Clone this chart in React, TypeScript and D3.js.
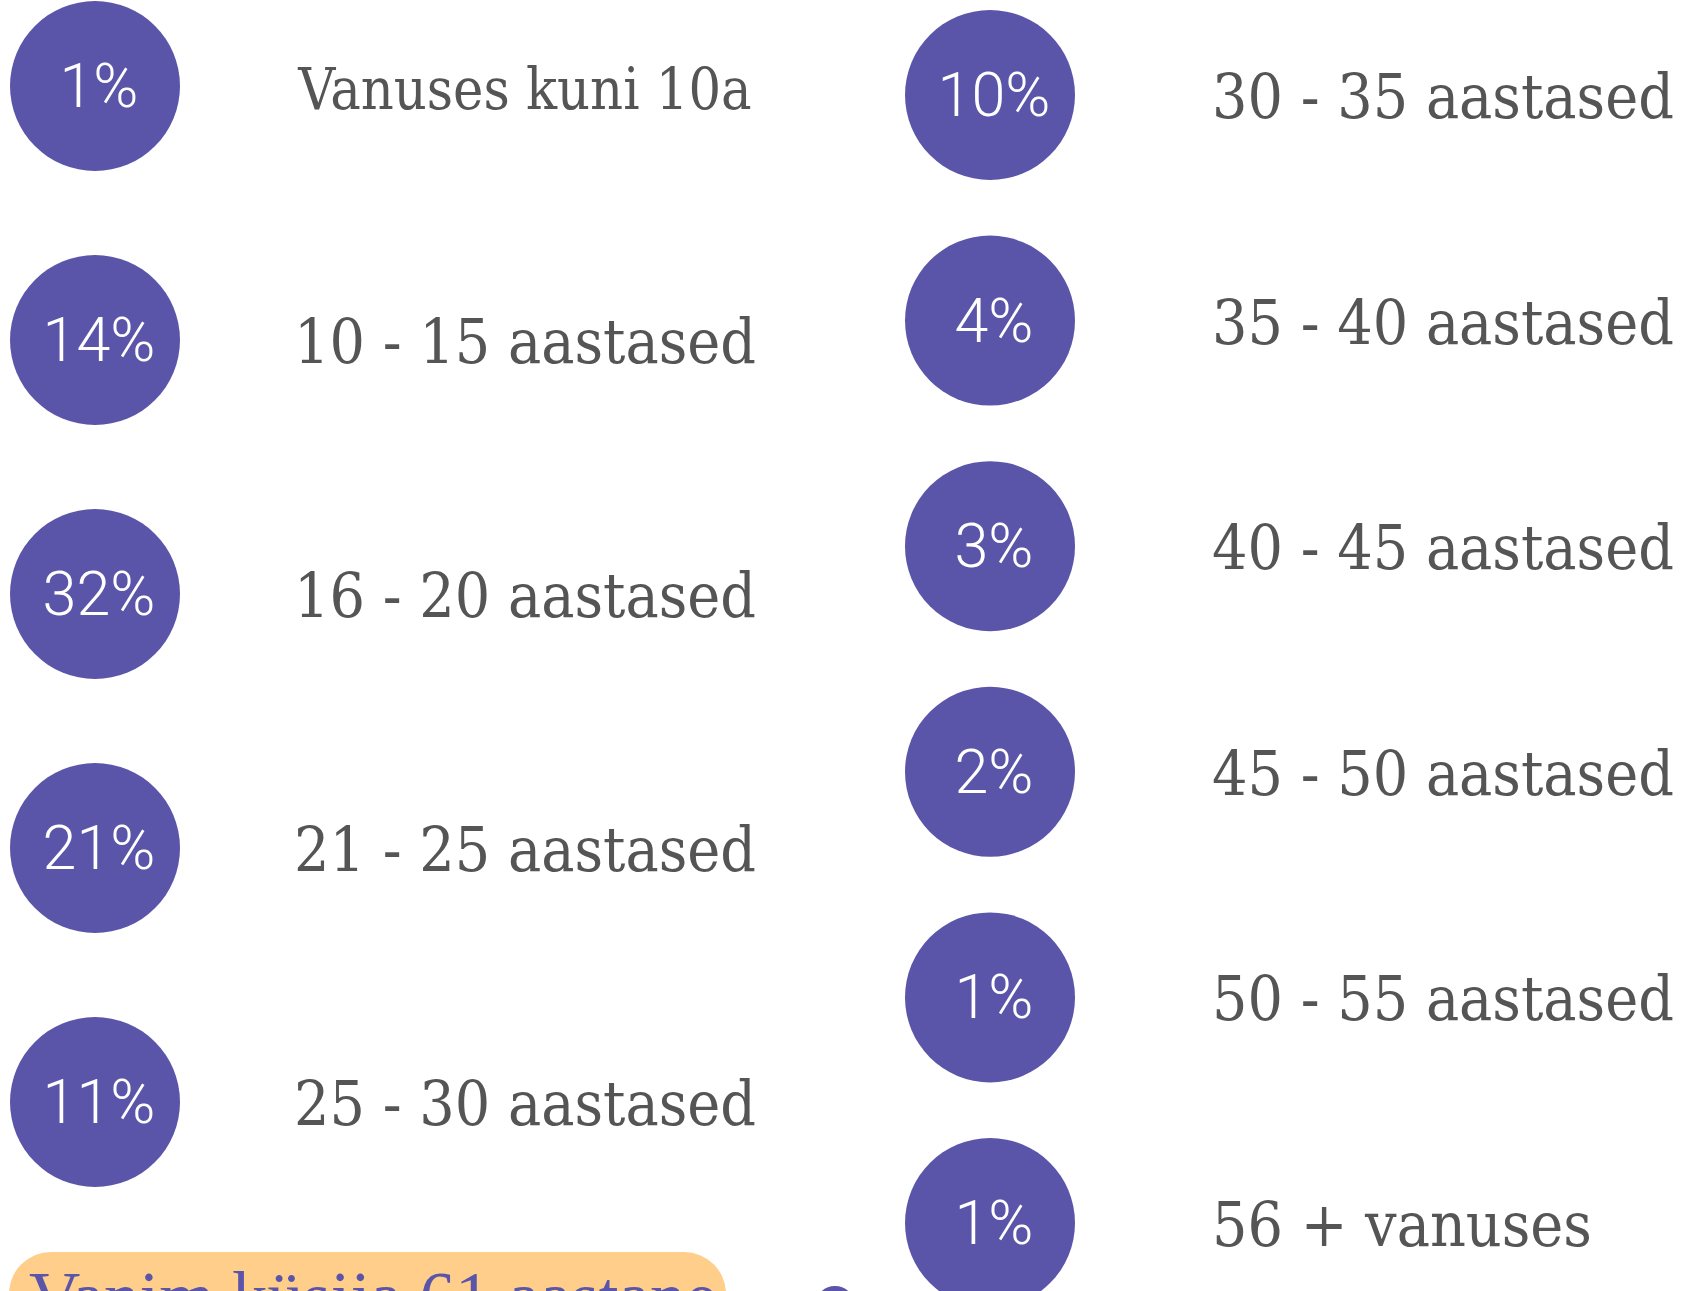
import React from 'react';
import * as d3 from 'd3';

// age groups, left column then right column
const leftGroups = [
  'Vanuses kuni 10a',
  '10 - 15 aastased',
  '16 - 20 aastased',
  '21 - 25 aastased',
  '25 - 30 aastased',
];
const leftShares = [1, 14, 32, 21, 11];

const rightGroups = [
  '30 - 35 aastased',
  '35 - 40 aastased',
  '40 - 45 aastased',
  '45 - 50 aastased',
  '50 - 55 aastased',
  '56 + vanuses',
];
const rightShares = [10, 4, 3, 2, 1, 1];

const noteText = 'Vanim küsija 61 aastane';

const W = 1694;
const H = 1291;
const R = 85;
const PURPLE = '#5b55a9';
const GREY = '#555555';
const ORANGE = '#fece8a';

const Column = ({ groups, shares, cx, y0, y1, labelX, anchor }) => {
  const y = d3.scalePoint<string>().domain(groups).range([y0, y1]);
  const fmt = (v: number) => d3.format('d')(v) + '%';
  return (
    <g>
      {groups.map((g, i) => (
        <g key={g}>
          <circle cx={cx} cy={y(g)} r={R} fill={PURPLE} />
          <text
            x={cx + 4}
            y={y(g)}
            dominantBaseline="central"
            textAnchor="middle"
            fill="#fff"
            fontFamily="Roboto, sans-serif"
            fontWeight={300}
            fontSize={61}
          >
            {fmt(shares[i])}
          </text>
          <text
            x={labelX}
            y={(y(g) ?? 0) + 23}
            textAnchor={anchor}
            fill={GREY}
            fontFamily="'DejaVu Serif Condensed', 'DejaVu Serif', serif"
            style={{ fontStretch: 'condensed' }}
            fontSize={i === 0 && anchor === 'middle' ? 57 : 62}
          >
            {g}
          </text>
        </g>
      ))}
    </g>
  );
};

export default function App() {
  return (
    <svg
      width={W}
      height={H}
      style={{ position: 'fixed', left: 0, top: 0, background: '#fff' }}
    >
      <rect width={W} height={H} fill="#fff" />
      <Column groups={leftGroups} shares={leftShares} cx={95} y0={86} y1={1102} labelX={525} anchor="middle" />
      <Column groups={rightGroups} shares={rightShares} cx={990} y0={95} y1={1223} labelX={1212} anchor="start" />

      {/* note box at the bottom, cut by the page edge */}
      <rect x={9} y={1252} width={717} height={120} rx={42} fill={ORANGE} />
      <text x={29} y={1321} fill={PURPLE} fontFamily="'Liberation Serif', serif" fontSize={71}>
        {noteText}
      </text>
      <circle cx={835} cy={1306} r={17} fill="none" stroke={PURPLE} strokeWidth={6} />
    </svg>
  );
}
